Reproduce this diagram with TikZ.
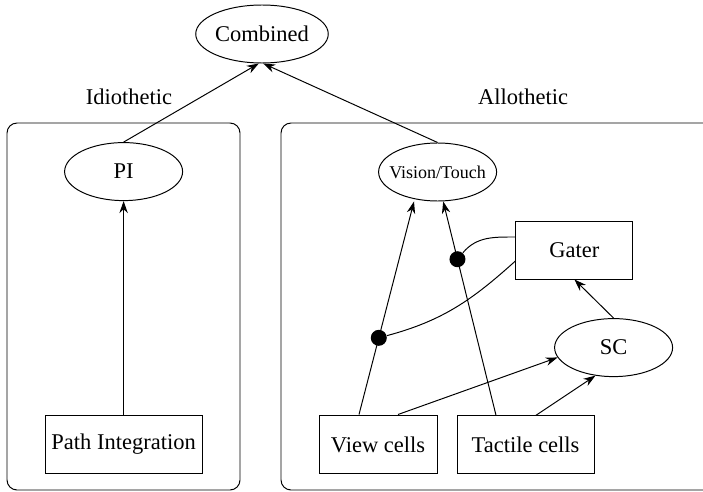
\documentclass[tikz,border=0pt]{standalone}
\usepackage{fontspec}
\setmainfont{Liberation Serif}
\usepackage{tikz}
\usetikzlibrary{shapes.geometric, arrows.meta, positioning}

\begin{document}
\begin{tikzpicture}[
    line width=0.7pt,
    ell/.style={ellipse, draw, minimum width=2.95cm, minimum height=1.45cm, inner sep=0pt, font=\fontsize{16}{19}\selectfont},
    box/.style={rectangle, draw, minimum height=1.47cm, inner sep=0pt, font=\fontsize{16}{19}\selectfont},
    dot/.style={circle, fill=black, inner sep=0pt, minimum size=0.4cm},
    lbl/.style={font=\fontsize{16}{19}\selectfont},
    arr/.style={-{Stealth[length=0.3cm, width=0.21cm]}}
]
\clip (0,0) rectangle (17.575,-12.3);

% -- TOP: combined estimate --
\node[ell] (comb) at (6.55,-0.85) {Combined};

% -- LEFT CLUSTER: Idiothetic --
\draw[rounded corners=0.25cm] (0.175,-3.075) rectangle (6.0,-12.25);
\node[lbl] (idio) at (3.225,-2.425) {Idiothetic};
\node[ell] (pi) at (3.09,-4.29) {PI};
\node[box, minimum width=3.925cm] (path) at (3.09,-11.11) {Path Integration};

\draw[arr] (path.north) -- (pi.south);
\draw[arr] (pi.north) -- ([xshift=-0.08cm]comb.south);

% -- RIGHT CLUSTER: Allothetic --
\draw[rounded corners=0.25cm] (7.025,-3.075) rectangle (19.0,-12.25);
\node[lbl] (allo) at (13.075,-2.425) {Allothetic};
\node[ell, inner xsep=-0.18cm, font=\fontsize{12.8}{15}\selectfont] (vt) at (10.94,-4.3) {Vision/Touch};
\node[box, minimum width=2.925cm, minimum height=1.45cm] (gater) at (14.36,-6.25) {Gater};
\node[ell] (sc) at (15.34,-8.69) {SC};
\node[box, minimum width=2.95cm] (view) at (9.45,-11.11) {View cells};
\node[box, minimum width=3.425cm, minimum height=1.45cm] (tact) at (13.14,-11.12) {Tactile cells};

\draw[arr] (vt.north) -- ([xshift=0.03cm]comb.south);
\draw[arr] ([xshift=-0.475cm]view.north) -- node[dot, pos=0.36] (dot2) {} ([xshift=-0.59cm]vt.south);
\draw[arr] ([xshift=-0.74cm]tact.north) -- node[dot, pos=0.73] (dot1) {} ([xshift=0.14cm]vt.south);
\draw[arr] ([xshift=0.5cm]view.north) -- (sc.190);
\draw[arr] ([xshift=0.26cm]tact.north) -- (sc.237);
\draw[arr] (sc.north) -- (gater.south);

% gating links
\draw ([yshift=0.325cm]gater.west) to[out=180, in=50] (dot1);
\draw ([yshift=-0.275cm]gater.west) to[out=222, in=15] (dot2);

\end{tikzpicture}
\end{document}
